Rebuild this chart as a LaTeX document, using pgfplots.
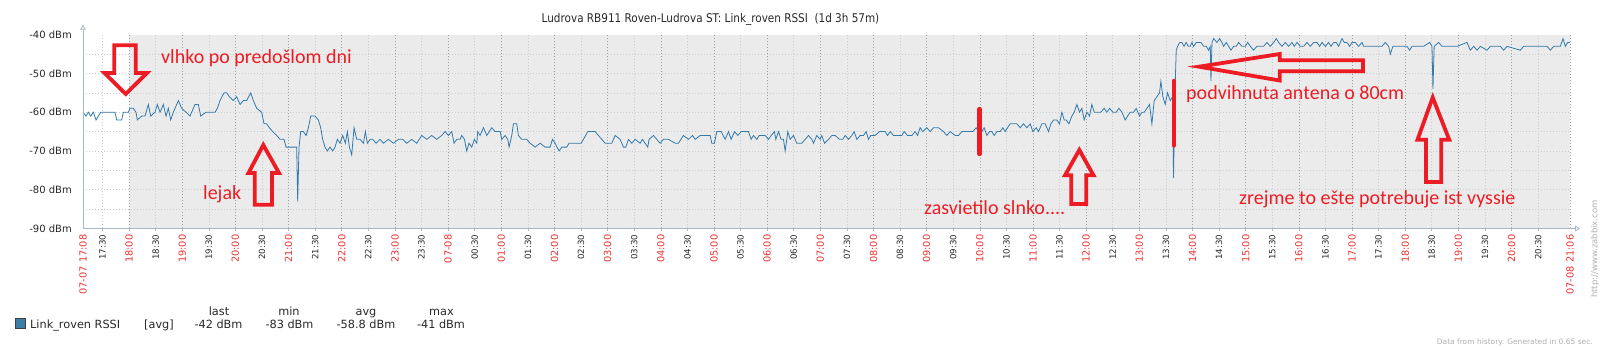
\documentclass[border=0pt]{standalone}
\usepackage{fontspec}
\setmainfont{DejaVu Sans}
\newfontfamily\titlefont[FakeStretch=0.87]{DejaVu Sans}
\newfontfamily\annfont{Carlito}
\usepackage{pgfplots}
\usepackage{pgfplotstable}
\pgfplotsset{compat=1.18}
\usetikzlibrary{arrows.meta}

\definecolor{bgGray}{RGB}{235,235,235}
\definecolor{lineBlue}{RGB}{52,122,172}
\definecolor{legBlue}{RGB}{61,126,166}
\definecolor{annRed}{RGB}{237,28,36}
\definecolor{tickRed}{RGB}{238,50,50}
\definecolor{axisCol}{RGB}{170,185,200}
\definecolor{gridHour}{RGB}{150,163,178}
\definecolor{gridHalf}{RGB}{200,205,210}
\definecolor{txtDark}{RGB}{40,40,40}
\definecolor{txtLight}{RGB}{175,175,175}

\pgfplotstableread{
h v
17.134 -60
17.190 -61
17.234 -60
17.278 -61
17.328 -60
17.378 -62
17.422 -61
17.466 -60
17.547 -60
17.735 -60
17.767 -62
17.861 -62
17.892 -60
17.986 -60
18.017 -59
18.080 -59
18.130 -60
18.155 -62
18.237 -61
18.300 -61
18.362 -58
18.406 -61
18.488 -60
18.532 -58
18.582 -60
18.644 -58
18.695 -61
18.738 -59
18.782 -62
18.832 -60
18.927 -57
18.989 -59
19.071 -60
19.146 -61
19.240 -58
19.303 -58
19.347 -61
19.447 -60
19.554 -60
19.616 -60
19.660 -59
19.710 -57
19.786 -55
19.836 -55
19.886 -56
19.961 -57
20.024 -56
20.087 -58
20.149 -57
20.212 -57
20.287 -55
20.337 -57
20.400 -59
20.494 -60
20.538 -63
20.588 -63
20.638 -64
20.701 -65
20.776 -66
20.839 -67
20.914 -67
20.952 -69
21.152 -69
21.171 -83
21.196 -69
21.228 -65
21.278 -65
21.328 -66
21.372 -64
21.416 -61
21.497 -61
21.560 -62
21.604 -64
21.641 -67
21.685 -69
21.729 -70
21.779 -69
21.830 -70
21.873 -69
21.917 -67
21.967 -68
22.018 -66
22.068 -68
22.105 -65
22.143 -69
22.187 -71
22.231 -64
22.281 -67
22.344 -67
22.407 -68
22.444 -65
22.481 -68
22.532 -67
22.582 -67
22.645 -68
22.720 -67
22.783 -68
22.877 -67
22.971 -68
23.065 -67
23.146 -67
23.222 -68
23.316 -67
23.410 -68
23.504 -66
23.598 -67
23.692 -66
23.786 -67
23.880 -66
23.943 -65
24.005 -66
24.068 -65
24.112 -68
24.162 -67
24.225 -67
24.256 -66
24.307 -67
24.350 -70
24.394 -68
24.445 -69
24.495 -67
24.539 -68
24.557 -65
24.601 -66
24.664 -64
24.727 -66
24.821 -64
24.883 -65
24.978 -65
25.009 -67
25.072 -66
25.122 -67
25.147 -69
25.197 -66
25.228 -63
25.291 -63
25.322 -66
25.385 -67
25.479 -67
25.542 -68
25.636 -69
25.730 -68
25.824 -69
25.918 -69
25.962 -67
26.012 -68
26.087 -70
26.138 -69
26.232 -69
26.275 -68
26.388 -68
26.501 -68
26.545 -67
26.627 -65
26.765 -65
26.827 -66
26.953 -68
27.078 -68
27.141 -66
27.235 -67
27.298 -69
27.341 -69
27.392 -67
27.454 -68
27.517 -67
27.611 -68
27.655 -67
27.705 -68
27.755 -69
27.780 -67
27.862 -66
27.924 -67
27.987 -68
28.050 -67
28.144 -67
28.270 -68
28.332 -68
28.426 -66
28.520 -67
28.596 -66
28.646 -67
28.740 -66
28.928 -66
28.959 -68
29.009 -68
29.053 -65
29.135 -65
29.210 -67
29.273 -65
29.323 -67
29.386 -65
29.448 -66
29.511 -65
29.649 -65
29.699 -67
29.743 -66
29.806 -67
29.850 -66
29.963 -66
30.025 -67
30.075 -66
30.138 -65
30.163 -67
30.213 -65
30.263 -67
30.307 -67
30.339 -70
30.389 -65
30.433 -67
30.495 -66
30.558 -68
30.652 -68
30.715 -67
30.778 -66
30.840 -67
30.872 -68
30.934 -66
30.997 -67
31.028 -66
31.079 -68
31.154 -67
31.217 -66
31.279 -66
31.361 -67
31.423 -67
31.467 -66
31.530 -67
31.593 -66
31.636 -65
31.687 -67
31.749 -66
31.812 -66
31.862 -65
31.906 -67
31.950 -66
32.031 -66
32.113 -65
32.220 -65
32.263 -66
32.314 -65
32.376 -66
32.533 -66
32.577 -65
32.640 -66
32.721 -66
32.784 -65
32.828 -66
32.878 -64
32.928 -65
33.003 -64
33.066 -65
33.129 -64
33.223 -64
33.317 -65
33.380 -66
33.442 -65
33.536 -66
33.599 -66
33.662 -65
33.724 -65
33.806 -65
33.869 -65
33.931 -64
33.975 -65
34.038 -65
34.082 -64
34.132 -66
34.182 -65
34.226 -65
34.270 -66
34.320 -65
34.383 -65
34.433 -64
34.477 -65
34.521 -64
34.571 -63
34.634 -63
34.696 -63
34.759 -64
34.822 -63
34.885 -64
34.947 -63
34.997 -65
35.060 -64
35.104 -65
35.167 -63
35.229 -63
35.292 -65
35.336 -63
35.386 -62
35.449 -62
35.499 -63
35.543 -60
35.587 -62
35.624 -62
35.675 -63
35.731 -61
35.775 -60
35.825 -58
35.875 -60
35.919 -59
35.963 -62
36.013 -60
36.063 -61
36.107 -58
36.151 -60
36.201 -60
36.276 -60
36.339 -59
36.389 -60
36.440 -59
36.502 -60
36.565 -60
36.615 -59
36.672 -60
36.734 -62
36.778 -61
36.828 -60
36.891 -60
36.941 -59
37.004 -61
37.048 -60
37.092 -60
37.142 -59
37.192 -58
37.236 -63
37.280 -57
37.330 -56
37.380 -55
37.405 -52
37.443 -56
37.487 -58
37.531 -55
37.581 -57
37.625 -56
37.643 -77
37.665 -57
37.694 -44
37.720 -43
37.760 -42
37.800 -42
37.840 -43
37.880 -42
37.920 -43
37.958 -43
37.989 -42
38.021 -43
38.071 -42
38.115 -42
38.159 -42
38.209 -43
38.259 -43
38.303 -44
38.334 -43
38.347 -52
38.366 -42
38.397 -41
38.460 -42
38.510 -41
38.554 -42
38.585 -43
38.635 -42
38.679 -43
38.723 -44
38.773 -43
38.823 -43
38.867 -42
38.930 -43
38.993 -43
39.037 -42
39.087 -43
39.149 -44
39.212 -43
39.275 -43
39.337 -43
39.400 -42
39.463 -43
39.526 -42
39.576 -41
39.620 -42
39.682 -43
39.745 -42
39.808 -43
39.871 -42
39.914 -43
39.965 -42
40.027 -43
40.090 -43
40.153 -42
40.215 -43
40.278 -42
40.341 -42
40.391 -43
40.435 -42
40.498 -43
40.560 -42
40.604 -43
40.654 -42
40.704 -42
40.748 -43
40.811 -41
40.855 -42
40.905 -42
40.955 -43
40.999 -42
41.062 -42
41.125 -43
41.187 -42
41.219 -43
41.281 -43
41.344 -43
41.469 -43
41.564 -43
41.626 -42
41.689 -43
41.720 -45
41.770 -43
41.940 -43
42.034 -43
42.084 -44
42.128 -43
42.347 -43
42.460 -42
42.504 -43
42.522 -54
42.545 -43
42.629 -42
42.692 -43
42.912 -43
42.974 -43
43.162 -42
43.225 -44
43.288 -43
43.351 -44
43.413 -43
43.539 -44
43.601 -43
43.789 -43
43.852 -44
43.915 -43
44.166 -44
44.228 -43
44.667 -43
44.730 -44
44.793 -43
44.918 -43
44.968 -41
45.012 -43
45.056 -42
45.095 -42
}\rssi

\begin{document}
\begin{tikzpicture}
\begin{axis}[
  set layers,
  at={(83pt,121.5pt)}, anchor=south west,
  scale only axis, width=1487pt, height=193.8pt,
  xmin=17.1333, xmax=45.1, ymin=-90, ymax=-40,
  clip=false,
  axis line style={draw=none},
  major tick length=0pt, minor tick length=0pt,
  xtick={17.1333,18,19,20,21,22,23,24,25,26,27,28,29,30,31,32,33,34,35,36,37,38,39,40,41,42,43,44,45.1},
  xticklabels={{07-07 17:08},18:00,19:00,20:00,21:00,22:00,23:00,07-08,01:00,02:00,03:00,04:00,05:00,06:00,07:00,08:00,09:00,10:00,11:00,12:00,13:00,14:00,15:00,16:00,17:00,18:00,19:00,20:00,{07-08 21:06}},
  xticklabel style={rotate=90, anchor=east, inner xsep=6pt, font=\fontsize{9.8}{10}\selectfont, text=tickRed},
  extra x ticks={17.5,18.5,19.5,20.5,21.5,22.5,23.5,24.5,25.5,26.5,27.5,28.5,29.5,30.5,31.5,32.5,33.5,34.5,35.5,36.5,37.5,38.5,39.5,40.5,41.5,42.5,43.5,44.5},
  extra x tick labels={17:30,18:30,19:30,20:30,21:30,22:30,23:30,00:30,01:30,02:30,03:30,04:30,05:30,06:30,07:30,08:30,09:30,10:30,11:30,12:30,13:30,14:30,15:30,16:30,17:30,18:30,19:30,20:30},
  extra x tick style={major grid style={gridHalf, line width=0.6pt, dash pattern=on 1pt off 2pt}, xticklabel style={font=\fontsize{8.6}{10}\selectfont, text=txtDark}},
  xmajorgrids=true,
  major grid style={gridHour, line width=0.6pt, dash pattern=on 1.5pt off 1.5pt},
  ytick={-90,-80,-70,-60,-50,-40},
  yticklabels={-90 dBm,-80 dBm,-70 dBm,-60 dBm,-50 dBm,-40 dBm},
  yticklabel style={font=\fontsize{10}{12}\selectfont, text=txtDark, inner xsep=11pt},
  minor ytick={-85,-80,-75,-70,-65,-60,-55,-50,-45},
  ymajorgrids=false, yminorgrids=true,
  minor grid style={gridHalf, line width=0.6pt, dash pattern=on 1pt off 2pt},
]
\begin{pgfonlayer}{axis background}
\fill[bgGray] (axis cs:18,-90) rectangle (axis cs:45.1,-40);
\end{pgfonlayer}
\addplot[lineBlue, line width=0.8pt, mark=none] table[x=h, y=v] {\rssi};
\draw[axisCol, line width=0.9pt, -{Triangle[open,length=5pt,width=6pt]}] (rel axis cs:0,0) -- ([yshift=10pt]rel axis cs:0,1);
\draw[axisCol, line width=0.9pt, -{Triangle[open,length=5pt,width=6pt]}] (rel axis cs:0,0) -- ([xshift=10pt]rel axis cs:1,0);
\pgfplotsinvokeforeach{17.5,18,...,44.5}{
  \draw[axisCol, line width=0.6pt] (axis cs:#1,-90) -- ([yshift=-2.5pt]axis cs:#1,-90);
}
\end{axis}

\begin{scope}[x=1pt, y=-1pt, shift={(0pt,350pt)}]
% title
\node[font=\titlefont\fontsize{12}{14}\selectfont, text=txtDark, anchor=base, inner sep=0pt] at (710.5,22.7) {Ludrova RB911 Roven-Ludrova ST: Link\_roven RSSI\ \ (1d 3h 57m)};
% legend
\filldraw[fill=legBlue, draw=black!75, line width=0.6pt] (15,318.7) rectangle (25,328.7);
\begin{scope}[every node/.style={font=\fontsize{11.3}{13}\selectfont, text=txtDark, inner sep=0pt}]
\node[anchor=base west] at (30,328.5) {Link\_roven RSSI};
\node[anchor=base west] at (144,328.5) {[avg]};
\node[anchor=base] at (219,315.3) {last};
\node[anchor=base] at (289,315.3) {min};
\node[anchor=base] at (366,315.3) {avg};
\node[anchor=base] at (441.5,315.3) {max};
\node[anchor=base] at (218.5,328.5) {-42 dBm};
\node[anchor=base] at (289.5,328.5) {-83 dBm};
\node[anchor=base] at (366,328.5) {-58.8 dBm};
\node[anchor=base] at (441,328.5) {-41 dBm};
\end{scope}
\node[font=\fontsize{7.5}{9}\selectfont, text=txtLight, anchor=base east, inner sep=0pt] at (1593,345) {Data from history. Generated in 0.65 sec.};
\node[font=\fontsize{8.5}{10}\selectfont, text=txtLight, rotate=90, inner sep=0pt] at (1595,249) {http://www.zabbix.com};
% annotations
\begin{scope}[annRed, line width=3.8pt, line join=miter]
\draw (114.3,45.3) -- (135.7,45.3) -- (135.7,73) -- (147,73) -- (125.7,94) -- (104.5,73) -- (114.3,73) -- cycle;
\draw (254.7,204.7) -- (254.7,173) -- (248.5,173) -- (263.3,145) -- (279,173) -- (272,173) -- (272,204.7) -- cycle;
\draw (1071.3,204) -- (1071.3,175.3) -- (1065,175.3) -- (1079.3,150) -- (1093.5,175.3) -- (1086.3,175.3) -- (1086.3,204) -- cycle;
\draw (1426,182) -- (1426,139.7) -- (1417.5,139.7) -- (1432.7,97.5) -- (1449.2,139.7) -- (1441.3,139.7) -- (1441.3,182) -- cycle;
\draw (1363,60.3) -- (1279.7,60.3) -- (1279.7,54) -- (1199,66.7) -- (1279.7,80.5) -- (1279.7,71.3) -- (1363,71.3) -- cycle;
\draw[line width=4.3pt, line cap=round] (979.5,109) -- (979.5,154);
\draw[line width=4.3pt, line cap=round] (1173.8,81) -- (1173.8,145.5);
\end{scope}
\begin{scope}[every node/.style={font=\annfont\fontsize{20}{24}\selectfont, text=annRed, inner sep=0pt, anchor=base west}]
\node at (161,63.3) {vlhko po predošlom dni};
\node at (203,199.3) {lejak};
\node at (924,215) {zasvietilo slnko....};
\node at (1186,100) {podvihnuta antena o 80cm};
\node at (1239,204.5) {zrejme to ešte potrebuje ist vyssie};
\end{scope}
\end{scope}
\pgfresetboundingbox
\path[use as bounding box] (0pt,0pt) rectangle (1600pt,350pt);
\end{tikzpicture}
\end{document}
